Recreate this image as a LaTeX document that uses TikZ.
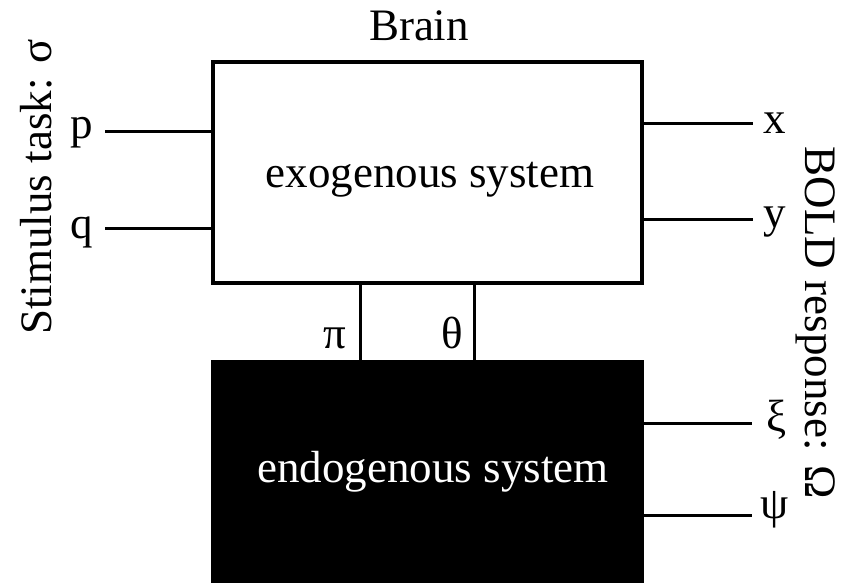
\documentclass[tikz,border=0pt]{standalone}
\usepackage{fontspec}
\setmainfont{Liberation Serif}
\begin{document}
\begin{tikzpicture}[x=1pt,y=-1pt,line width=3pt,
  lbl/.style={inner sep=0pt,font=\fontsize{45}{54}\selectfont},
  sysbox/.style={draw,line width=3.5pt,inner sep=0pt,minimum width=429pt},
]
\useasboundingbox (0,0) rectangle (843,582);

% the two subsystems
\node[sysbox,minimum height=221pt] (exo) at (427.5,172.5) {};
\node[sysbox,fill=black,minimum height=250pt,anchor=north] (endo) at (427.5,360) {};
\node[lbl,anchor=base] (exotxt) at (430,187) {exogenous system};
\node[lbl,anchor=base,text=white] (endotxt) at (433,482) {endogenous system};
\node[lbl,anchor=base] (brain) at (419,40) {Brain};

% side titles
\node[lbl,anchor=base,rotate=90] (stim) at (51,187) {Stimulus task: σ};
\node[lbl,anchor=base,rotate=-90] (bold) at (805,323) {BOLD response: Ω};

% inputs
\node[lbl] (p) at (82,133) {p};
\node[lbl] (q) at (82,232) {q};
\coordinate (pin) at (105,131);
\coordinate (qin) at (105,228);
\draw (pin) -- (pin -| exo.west);
\draw (qin) -- (qin -| exo.west);

% outputs of the exogenous system
\node[lbl] (x) at (775,123.5) {x};
\node[lbl] (y) at (775,222) {y};
\coordinate (xout) at (753,123);
\coordinate (yout) at (753,219);
\draw (xout -| exo.east) -- (xout);
\draw (yout -| exo.east) -- (yout);

% outputs of the endogenous system
\node[lbl] (xi) at (777,420) {ξ};
\node[lbl] (psi) at (775,510) {ψ};
\coordinate (xiout) at (752,423);
\coordinate (psiout) at (752,515);
\draw (xiout -| endo.east) -- (xiout);
\draw (psiout -| endo.east) -- (psiout);

% couplings between the systems
\coordinate (pic) at (360,320);
\coordinate (thc) at (474,320);
\draw (pic |- exo.south) -- (pic |- endo.north);
\draw (thc |- exo.south) -- (thc |- endo.north);
\node[lbl,anchor=base] (pi) at (335,348) {π};
\node[lbl,anchor=base] (theta) at (452,348) {θ};
\end{tikzpicture}
\end{document}
